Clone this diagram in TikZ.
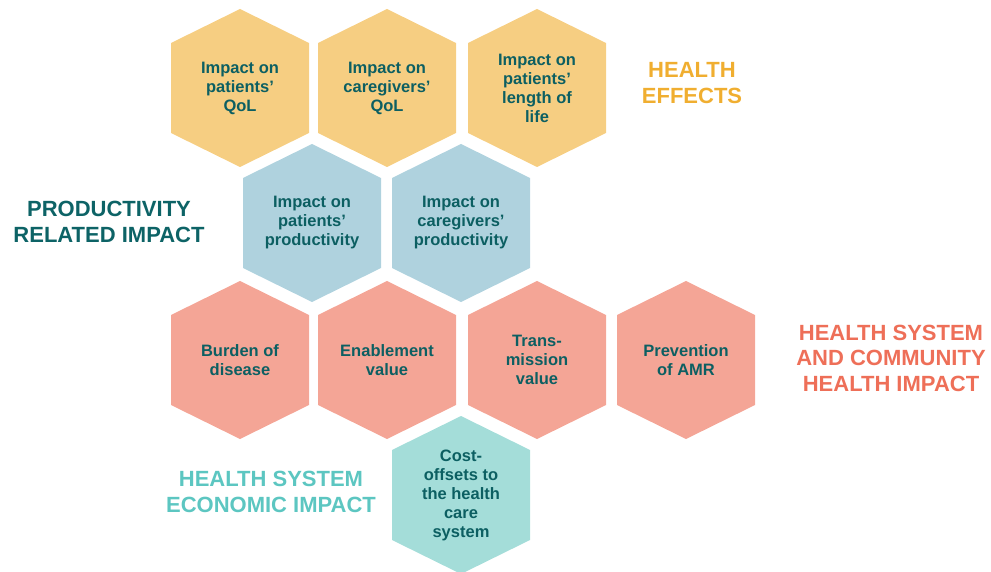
\documentclass[tikz,border=0pt]{standalone}
\usepackage{fontspec}
\setmainfont{Liberation Sans}
\usepackage{tikz}
\usetikzlibrary{positioning}

\definecolor{hexyellow}{HTML}{F6CE82}
\definecolor{hexblue}{HTML}{AFD2DE}
\definecolor{hexpink}{HTML}{F4A596}
\definecolor{hexteal}{HTML}{A4DDD9}
\definecolor{celltext}{HTML}{0C5F62}
\definecolor{headyellow}{HTML}{F0AE30}
\definecolor{headdark}{HTML}{0D6366}
\definecolor{headcoral}{HTML}{EE6F58}
\definecolor{headteal}{HTML}{5CC6C1}

\begin{document}
\begin{tikzpicture}[x=1pt, y=-1pt,
  cell/.style={font=\bfseries\fontsize{16.5}{19}\selectfont, text=celltext, align=center},
  group/.style={font=\bfseries\fontsize{22}{25.5}\selectfont, align=center}]
\useasboundingbox (0,0) rectangle (991,572);
% honeycomb cells: name/x/y/fill/text
\foreach \name/\x/\y/\col/\txt in {
  patqol/240/88/hexyellow/{Impact on\\patients’\\QoL},
  careqol/387/88/hexyellow/{Impact on\\caregivers’\\QoL},
  patlife/537/88/hexyellow/{Impact on\\patients’\\length of\\life},
  patprod/312/223/hexblue/{Impact on\\patients’\\productivity},
  careprod/461/223/hexblue/{Impact on\\caregivers’\\productivity},
  burden/240/360/hexpink/{Burden of\\disease},
  enable/387/360/hexpink/{Enablement\\value},
  transm/537/360/hexpink/{Trans-\\mission\\value},
  amr/686/360/hexpink/{Prevention\\of AMR},
  offsets/461/495/hexteal/{Cost-\\offsets to\\the health\\care\\system}}{
  \fill[\col] (\x,\y) +(0,-79) -- +(69,-45) -- +(69,45) -- +(0,79) -- +(-69,45) -- +(-69,-45) -- cycle;
  \node[cell] (\name) at (\x,\y) {\txt};
}
% group headings
\node[group, text=headyellow] (effects) at (692,83) {HEALTH\\EFFECTS};
\node[group, text=headdark] (prodimpact) at (109,222) {PRODUCTIVITY\\RELATED IMPACT};
\node[group, text=headcoral] (community) at (891,358) {HEALTH SYSTEM\\AND COMMUNITY\\HEALTH IMPACT};
\node[group, text=headteal] (economic) at (271,492) {HEALTH SYSTEM\\ECONOMIC IMPACT};
\end{tikzpicture}
\end{document}
